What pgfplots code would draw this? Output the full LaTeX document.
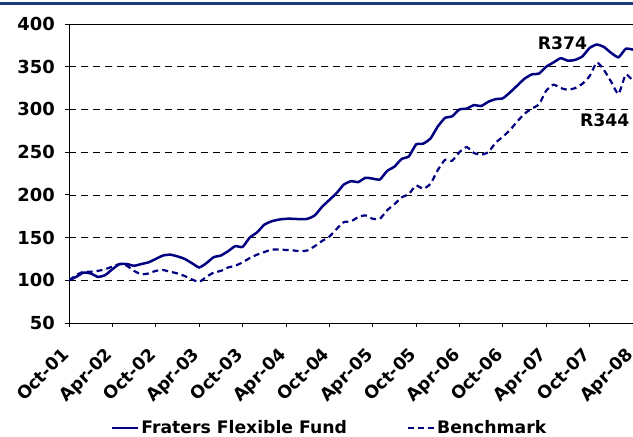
\documentclass[border=0pt]{standalone}
\usepackage{pgfplots}
\pgfplotsset{compat=1.18}
\usepackage{fontspec}
\setmainfont{DejaVu Sans}
\definecolor{navyline}{RGB}{0,0,128}
\definecolor{topbar}{RGB}{31,58,122}
\begin{document}
\begin{tikzpicture}[x=1bp,y=1bp]
\begin{axis}[
  at={(69bp,114bp)}, anchor=south west,
  width=564bp, height=299bp, scale only axis,
  xmin=0, xmax=78, ymin=50, ymax=400,
  axis x line*=bottom, axis y line*=left,
  axis line style={black, line width=0.9pt},
  xtick={0,6,...,78},
  xticklabels={Oct-01,Apr-02,Oct-02,Apr-03,Oct-03,Apr-04,Oct-04,Apr-05,Oct-05,Apr-06,Oct-06,Apr-07,Oct-07,Apr-08},
  ytick={50,100,...,400},
  tick align=outside,
  major tick length=4bp,
  tick style={black, line width=0.8pt},
  x tick label style={xshift=-8bp, yshift=-18bp, rotate=45, anchor=north east, font=\bfseries\fontsize{17.5}{19}\selectfont, inner sep=1pt},
  y tick label style={font=\bfseries\fontsize{18}{20}\selectfont, inner sep=2pt, xshift=-8bp},
  /pgf/number format/assume math mode=true,
  ymajorgrids, grid style={black, line width=0.7pt, dash pattern=on 7bp off 5bp},
  clip=true,
  legend style={at={(0.462,-0.351)}, anchor=center, draw=none, fill=none,
    legend columns=2, font=\bfseries\fontsize{17.3}{19}\selectfont,
    /tikz/every even column/.append style={column sep=58bp}},
  legend cell align=left,
  legend image code/.code={\draw[#1] (0bp,0bp) -- (26bp,0bp);},
]
\addplot[navyline, line width=2.5bp, smooth, tension=0.3] coordinates {
(0,100)(1,104)(2,109)(3,108)(4,104)(5,106)(6,113)(7,119)(8,119)(9,117)
(10,119)(11,121)(12,125)(13,129)(14,130)(15,128)(16,125)(17,120)(18,115)(19,120)
(20,127)(21,129)(22,134)(23,140)(24,139)(25,150)(26,156)(27,165)(28,169)(29,171)
(30,172)(31,172)(32,171.5)(33,172)(34,176)(35,186)(36,194)(37,202)(38,212)(39,216)
(40,215)(41,220)(42,219)(43,218)(44,228)(45,233)(46,242)(47,245)(48,259)(49,260)
(50,266)(51,280)(52,290)(53,292)(54,300)(55,301)(56,305)(57,304)(58,309)(59,312)
(60,313)(61,320)(62,328)(63,336)(64,341)(65,342)(66,350)(67,355)(68,360)(69,357)
(70,358)(71,362)(72,372)(73,376)(74,373)(75,366)(76,361)(77,371)(78,370)
};
\addlegendentry{Fraters Flexible Fund}
\addplot[navyline, line width=2.2bp, dash pattern=on 6bp off 4bp, smooth, tension=0.3] coordinates {
(0,100)(1,106)(2,110)(3,110)(4,111)(5,113)(6,116)(7,119)(8,117)(9,111)
(10,107)(11,108)(12,111)(13,112)(14,110)(15,108)(16,105)(17,101)(18,98)(19,104)
(20,109)(21,111)(22,115)(23,117)(24,121)(25,126)(26,130)(27,133)(28,136)(29,136)
(30,135.5)(31,135)(32,134)(33,135)(34,140)(35,146)(36,151)(37,160)(38,168)(39,169)
(40,174)(41,176)(42,172)(43,172)(44,182)(45,189)(46,197)(47,201)(48,211)(49,207)
(50,213)(51,229)(52,241)(53,240)(54,250)(55,256)(56,249)(57,247)(58,250)(59,261)
(60,268)(61,276)(62,286)(63,295)(64,301)(65,306)(66,322)(67,329)(68,325)(69,323)
(70,325)(71,330)(72,339)(73,355)(74,346)(75,332)(76,318)(77,341)(78,333)
};
\addlegendentry{Benchmark}
\draw[black, line width=0.9pt] (rel axis cs:0,1) -- (rel axis cs:1,1);
\node[font=\bfseries\fontsize{17.3}{19}\selectfont] at (axis cs:68.25,378) {R374};
\node[font=\bfseries\fontsize{17.3}{19}\selectfont] at (axis cs:74.1,287) {R344};
\end{axis}
\draw[topbar, line width=2.2bp] (0bp,433.5bp) -- (633bp,433.5bp);
\pgfresetboundingbox
\useasboundingbox (0bp,0bp) rectangle (633bp,437bp);
\end{tikzpicture}
\end{document}
